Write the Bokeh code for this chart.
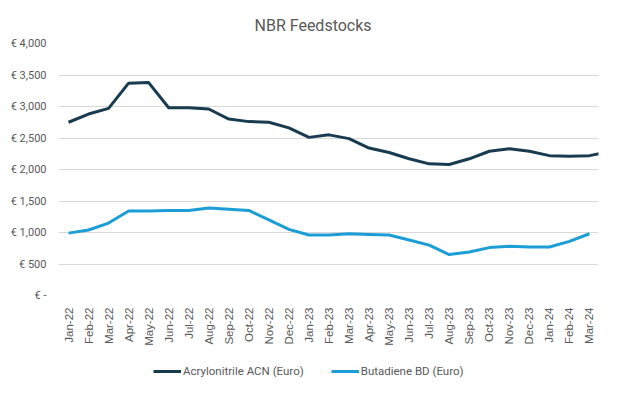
from bokeh.plotting import figure
from bokeh.layouts import column
from bokeh.models import FixedTicker, Legend, LegendItem, Range1d, ColumnDataSource
from bokeh.embed import file_html
from bokeh.resources import INLINE

months = ["Jan-22", "Feb-22", "Mar-22", "Apr-22", "May-22", "Jun-22", "Jul-22", "Aug-22",
          "Sep-22", "Oct-22", "Nov-22", "Dec-22", "Jan-23", "Feb-23", "Mar-23", "Apr-23",
          "May-23", "Jun-23", "Jul-23", "Aug-23", "Sep-23", "Oct-23", "Nov-23", "Dec-23",
          "Jan-24", "Feb-24", "Mar-24"]

acn = [2750, 2880, 2970, 3370, 3380, 2980, 2980, 2960, 2800, 2760, 2750, 2660, 2510, 2550,
       2490, 2340, 2270, 2170, 2090, 2080, 2170, 2290, 2330, 2290, 2220, 2210, 2220, 2280]
bd = [990, 1040, 1150, 1340, 1340, 1350, 1350, 1390, 1370, 1350, 1200, 1050, 960, 960,
      980, 970, 960, 880, 800, 650, 690, 760, 780, 770, 770, 860, 980]

y_ticks = [0, 500, 1000, 1500, 2000, 2500, 3000, 3500, 4000]
y_tick_labels = ["€ -", "€ 500", "€ 1,000", "€ 1,500", "€ 2,000", "€ 2,500", "€ 3,000",
                 "€ 3,500", "€ 4,000"]

series_names = ["Acrylonitrile ACN (Euro)", "Butadiene BD (Euro)"]
colors = ["#183b50", "#1b9dd6"]

FONT = "Roboto"
GRAY = "#595959"

p = figure(width=609, height=352, output_backend="svg", toolbar_location=None,
           x_range=Range1d(-0.5, 26.45), y_range=Range1d(0, 4000),
           min_border_left=58, min_border_right=11, min_border_top=43, min_border_bottom=57)

p.title.text = "NBR Feedstocks"
p.title.align = "left"
p.title.text_font = FONT
p.title.text_font_size = "16px"
p.title.text_font_style = "normal"
p.title.text_color = GRAY
p.title.offset = 196
p.title.standoff = 18

src_a = ColumnDataSource(dict(x=list(range(len(acn))), y=acn))
src_b = ColumnDataSource(dict(x=list(range(len(bd))), y=bd))
p.line("x", "y", source=src_a, line_color=colors[0], line_width=3, line_join="round")
p.line("x", "y", source=src_b, line_color=colors[1], line_width=3, line_join="round")

p.xaxis.ticker = FixedTicker(ticks=list(range(len(months))))
p.xaxis.major_label_overrides = {i: m for i, m in enumerate(months)}
p.xaxis.major_label_orientation = 1.5708
p.xaxis.major_label_text_font = "Liberation Sans"
p.xaxis.major_label_text_font_size = "11.5px"
p.xaxis.major_label_text_color = GRAY
p.xaxis.axis_line_color = None
p.xaxis.major_tick_line_color = None
p.xaxis.minor_tick_line_color = None
p.xaxis.major_label_standoff = 6

p.yaxis.ticker = FixedTicker(ticks=y_ticks)
p.yaxis.major_label_overrides = {t: l for t, l in zip(y_ticks, y_tick_labels)}
p.yaxis.major_label_text_font = FONT
p.yaxis.major_label_text_font_size = "11px"
p.yaxis.major_label_text_color = GRAY
p.yaxis.axis_line_color = None
p.yaxis.major_tick_line_color = None
p.yaxis.minor_tick_line_color = None
p.yaxis.major_label_standoff = 6

p.xgrid.grid_line_color = None
p.ygrid.grid_line_color = "#d9d9d9"
p.ygrid.grid_line_width = 1
p.outline_line_color = None

# legend strip: the series are drawn again here outside the visible range,
# so that the legend has renderers of its own to draw its swatches from
lg = figure(width=609, height=26, output_backend="svg", toolbar_location=None,
            x_range=Range1d(0, 1), y_range=Range1d(0, 1),
            min_border=0, min_border_left=0, min_border_right=0,
            min_border_top=0, min_border_bottom=0)
lg.axis.visible = False
lg.grid.visible = False
lg.outline_line_color = None
ra = lg.line("x", "y", source=src_a, line_color=colors[0], line_width=3)
rb = lg.line("x", "y", source=src_b, line_color=colors[1], line_width=3)
legend = Legend(items=[LegendItem(label=series_names[0], renderers=[ra]),
                       LegendItem(label=series_names[1], renderers=[rb])],
                orientation="horizontal", location=(95, 0),
                label_text_font=FONT, label_text_font_size="11.5px", label_text_color=GRAY,
                glyph_width=28, glyph_height=10, label_standoff=2, spacing=27,
                border_line_color=None, background_fill_alpha=0, padding=2, margin=0)
lg.add_layout(legend, "center")

layout = column(p, lg, spacing=0, width=609, height=378)
open("out.html", "w").write(file_html(layout, INLINE))
